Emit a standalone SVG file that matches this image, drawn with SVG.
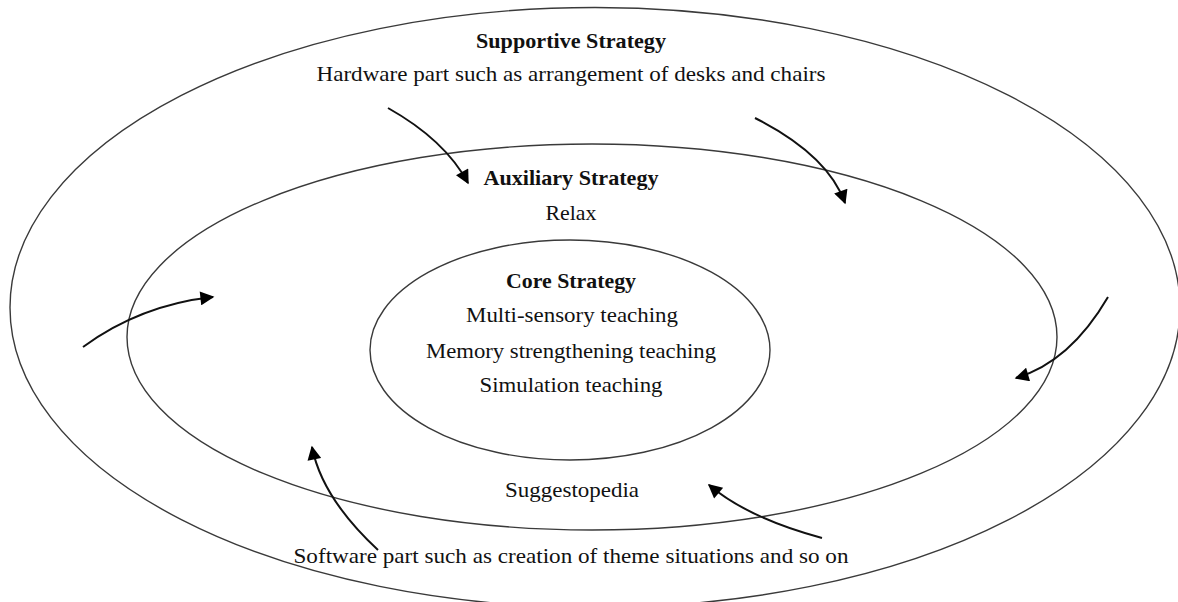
<svg xmlns="http://www.w3.org/2000/svg" width="1178" height="602" viewBox="0 0 1178 602">
<style>
.ring{fill:none;stroke:#3a3a3a;stroke-width:1.4}
.arr{fill:none;stroke:#111;stroke-width:2}
text{font-family:"Liberation Serif","Times New Roman",serif;font-size:21px;fill:#111;text-anchor:middle}
.b{font-weight:bold}
</style>
<defs>
<marker id="ah2" viewBox="0 0 10 10" refX="9" refY="5" markerWidth="16" markerHeight="14" orient="auto" markerUnits="userSpaceOnUse">
<path d="M0,0 L10,5 L0,10 Z" fill="#000"/>
</marker>
</defs>
<rect width="1178" height="602" fill="#fff"/>
<g id="supportive">
<ellipse class="ring" cx="595" cy="307.5" rx="585" ry="300"/>
<text class="b" x="571" y="48" textLength="190" lengthAdjust="spacingAndGlyphs">Supportive Strategy</text>
<text x="571" y="81" textLength="509" lengthAdjust="spacingAndGlyphs">Hardware part such as arrangement of desks and chairs</text>
<text x="571" y="563" textLength="555" lengthAdjust="spacingAndGlyphs">Software part such as creation of theme situations and so on</text>
</g>
<g id="auxiliary">
<ellipse class="ring" cx="592" cy="337" rx="465" ry="193"/>
<text class="b" x="571" y="185" textLength="175" lengthAdjust="spacingAndGlyphs">Auxiliary Strategy</text>
<text x="571" y="220" textLength="51" lengthAdjust="spacingAndGlyphs">Relax</text>
<text x="572" y="497" textLength="134" lengthAdjust="spacingAndGlyphs">Suggestopedia</text>
</g>
<g id="core">
<ellipse class="ring" cx="570" cy="350" rx="200" ry="110"/>
<text class="b" x="571" y="288" textLength="130" lengthAdjust="spacingAndGlyphs">Core Strategy</text>
<text x="572" y="322" textLength="212" lengthAdjust="spacingAndGlyphs">Multi-sensory teaching</text>
<text x="571" y="358" textLength="290" lengthAdjust="spacingAndGlyphs">Memory strengthening teaching</text>
<text x="571" y="392" textLength="183" lengthAdjust="spacingAndGlyphs">Simulation teaching</text>
</g>
<g id="connectors">
<path class="arr" marker-end="url(#ah2)" d="M388,108 Q445,140 468,183"/>
<path class="arr" marker-end="url(#ah2)" d="M755,118 Q828,155 845,203"/>
<path class="arr" marker-end="url(#ah2)" d="M83,347 Q140,305 213,297"/>
<path class="arr" marker-end="url(#ah2)" d="M1108,297 Q1070,362 1016,378"/>
<path class="arr" marker-end="url(#ah2)" d="M378,550 Q322,498 312,447"/>
<path class="arr" marker-end="url(#ah2)" d="M822,538 Q748,518 709,485"/>
</g>
</svg>
